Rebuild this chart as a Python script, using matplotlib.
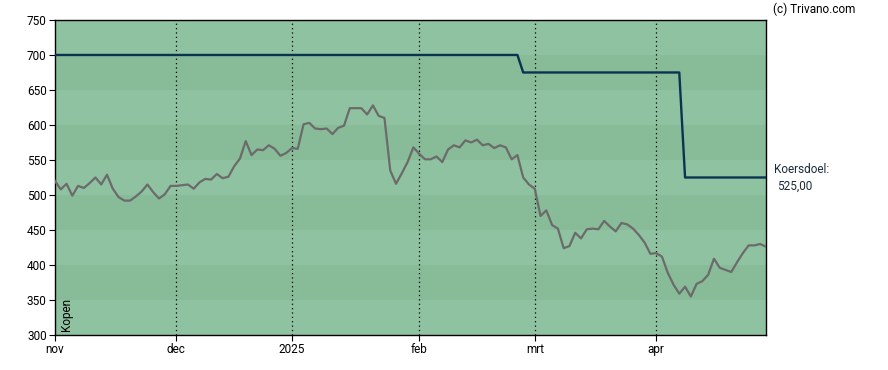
import matplotlib.pyplot as plt
import numpy as np

plt.rcParams["font.family"] = ["Roboto", "DejaVu Sans"]

# daily closing prices (trading days, nov 2024 - apr 2025)
prices = [
    520, 508, 516, 499, 513, 510, 517, 525, 515, 529,
    509, 497, 492, 492, 498, 505, 515, 504, 495, 501,
    513,
    513, 514, 515, 509, 518, 523, 522, 530, 524, 526,
    541, 552, 577, 557, 565, 564, 571, 566, 556, 560,
    567, 566, 601, 603, 595, 594, 595, 587, 596, 599,
    624, 624, 624, 615, 628, 613, 610, 535, 516, 531,
    547, 568,
    559, 551, 551, 555, 547, 565, 571, 568, 578, 575,
    579, 571, 573, 567, 571, 568, 551, 557, 525, 515,
    509, 470, 478, 457, 452, 424, 427, 446, 438, 451,
    452, 451, 463, 455, 448, 460, 458, 452, 443, 432,
    416,
    417, 412, 389, 372, 359, 369, 355, 373, 377, 386,
    409, 396, 393, 390, 404, 417, 428, 428, 430, 426,
]

# price target (koersdoel) and the trading day it starts on
target_levels = [700, 675, 525]
target_start = [0, 81, 109]

month_labels = ["nov", "dec", "2025", "feb", "mrt", "apr"]
month_index = [0, 21, 41, 63, 83, 104]

x = np.arange(len(prices))
bounds = target_start + [len(prices)]
target = np.repeat(target_levels, np.diff(bounds))

fig = plt.figure(figsize=(8.88, 3.70), dpi=100)
ax = fig.add_axes([0.0619, 0.0946, 0.8007, 0.8514])

# alternating horizontal bands
light = "#8fc2a1"
dark = "#88bb98"
for i, lo in enumerate(range(300, 750, 50)):
    ax.axhspan(lo, lo + 50, color=light if i % 2 == 0 else dark, lw=0, zorder=0)

for m in month_index[1:]:
    ax.axvline(m, color="black", ls=(0, (1, 2.5)), lw=0.9, zorder=1)

ax.plot(x, prices, color="#6b6b6b", lw=1.6, zorder=3)
ax.plot(x, target, color="#0a3352", lw=1.7, zorder=4)

ax.set_xlim(0, len(prices) - 1)
ax.set_ylim(300, 750)
ax.set_yticks(range(300, 751, 50))
ax.set_xticks(month_index)
ax.set_xticklabels(month_labels)
ax.tick_params(labelsize=8.5, length=4, width=0.8, colors="black", pad=2)
for s in ax.spines.values():
    s.set_linewidth(1)
    s.set_color("black")

ax.text(0.9, 306, "Kopen", rotation=90, fontsize=8.5, va="bottom", ha="left", zorder=5)

fig.text(0.870, 0.975, "(c) Trivano.com", fontsize=8.5, va="center", ha="left")
ax.text(1.011, target_levels[-1] + 12, "Koersdoel:", transform=ax.get_yaxis_transform(),
        fontsize=8.5, color="#1c2b39", va="center", ha="left")
ax.text(1.016, target_levels[-1] - 12, "525,00", transform=ax.get_yaxis_transform(),
        fontsize=8.5, color="#1c2b39", va="center", ha="left")

plt.savefig("out.png", dpi=100)
plt.close()
